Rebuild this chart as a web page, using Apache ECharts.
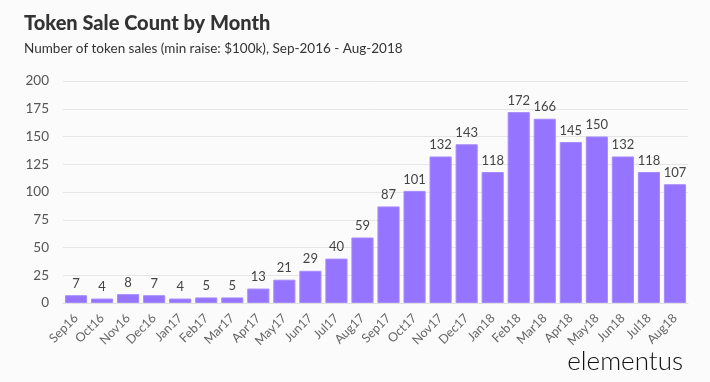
<!DOCTYPE html>
<html><head><meta charset="utf-8">
<script src="https://cdn.jsdelivr.net/npm/echarts@6/dist/echarts.min.js"></script>
<style>html,body{margin:0;padding:0;background:#fbfbfb}#c{width:710px;height:382px}</style>
</head><body><div id="c"></div>
<script>
const categories = ["Sep16","Oct16","Nov16","Dec16","Jan17","Feb17","Mar17","Apr17","May17","Jun17","Jul17","Aug17","Sep17","Oct17","Nov17","Dec17","Jan18","Feb18","Mar18","Apr18","May18","Jun18","Jul18","Aug18"];
const values = [7,4,8,7,4,5,5,13,21,29,40,59,87,101,132,143,118,172,166,145,150,132,118,107];
const yTicks = [0,25,50,75,100,125,150,175,200];

const chart = echarts.init(document.getElementById('c'));
chart.setOption({
  backgroundColor:'#fbfbfb',
  animation:false,
  title:[
    {text:'Token Sale Count by Month', left:19, top:9,
     textStyle:{fontFamily:'Lato', fontWeight:900, fontSize:20, color:'#333'}},
    {text:'Number of token sales (min raise: $100k), Sep-2016 - Aug-2018', left:19, top:37,
     textStyle:{fontFamily:'Lato', fontWeight:'normal', fontSize:13.5, color:'#333'}},
    {text:'elementus', right:22, top:344,
     textStyle:{fontFamily:'Lato', fontWeight:300, fontSize:26, color:'#111'}}
  ],
  grid:{left:63, right:22, top:81, bottom:79, containLabel:false},
  xAxis:{type:'category', data:categories,
    axisLine:{show:true, lineStyle:{color:'#e0e0e0', width:1}},
    axisTick:{show:false},
    axisLabel:{rotate:45, interval:0, fontFamily:'Lato', fontSize:12.5, color:'#666', margin:13}},
  yAxis:{type:'value', min:yTicks[0], max:yTicks[yTicks.length-1], interval:25,
    axisLine:{show:false}, axisTick:{show:false},
    splitLine:{lineStyle:{color:'#e6e6e6'}},
    axisLabel:{fontFamily:'Lato', fontSize:13.5, color:'#555', margin:14}},
  series:[{type:'bar', data:values, barCategoryGap:'15%',
    itemStyle:{color:'#9575ff', borderColor:'#a58bff', borderWidth:1},
    label:{show:true, position:'top', fontFamily:'Lato', fontSize:13, color:'#444', distance:5}}]
});
</script></body></html>
